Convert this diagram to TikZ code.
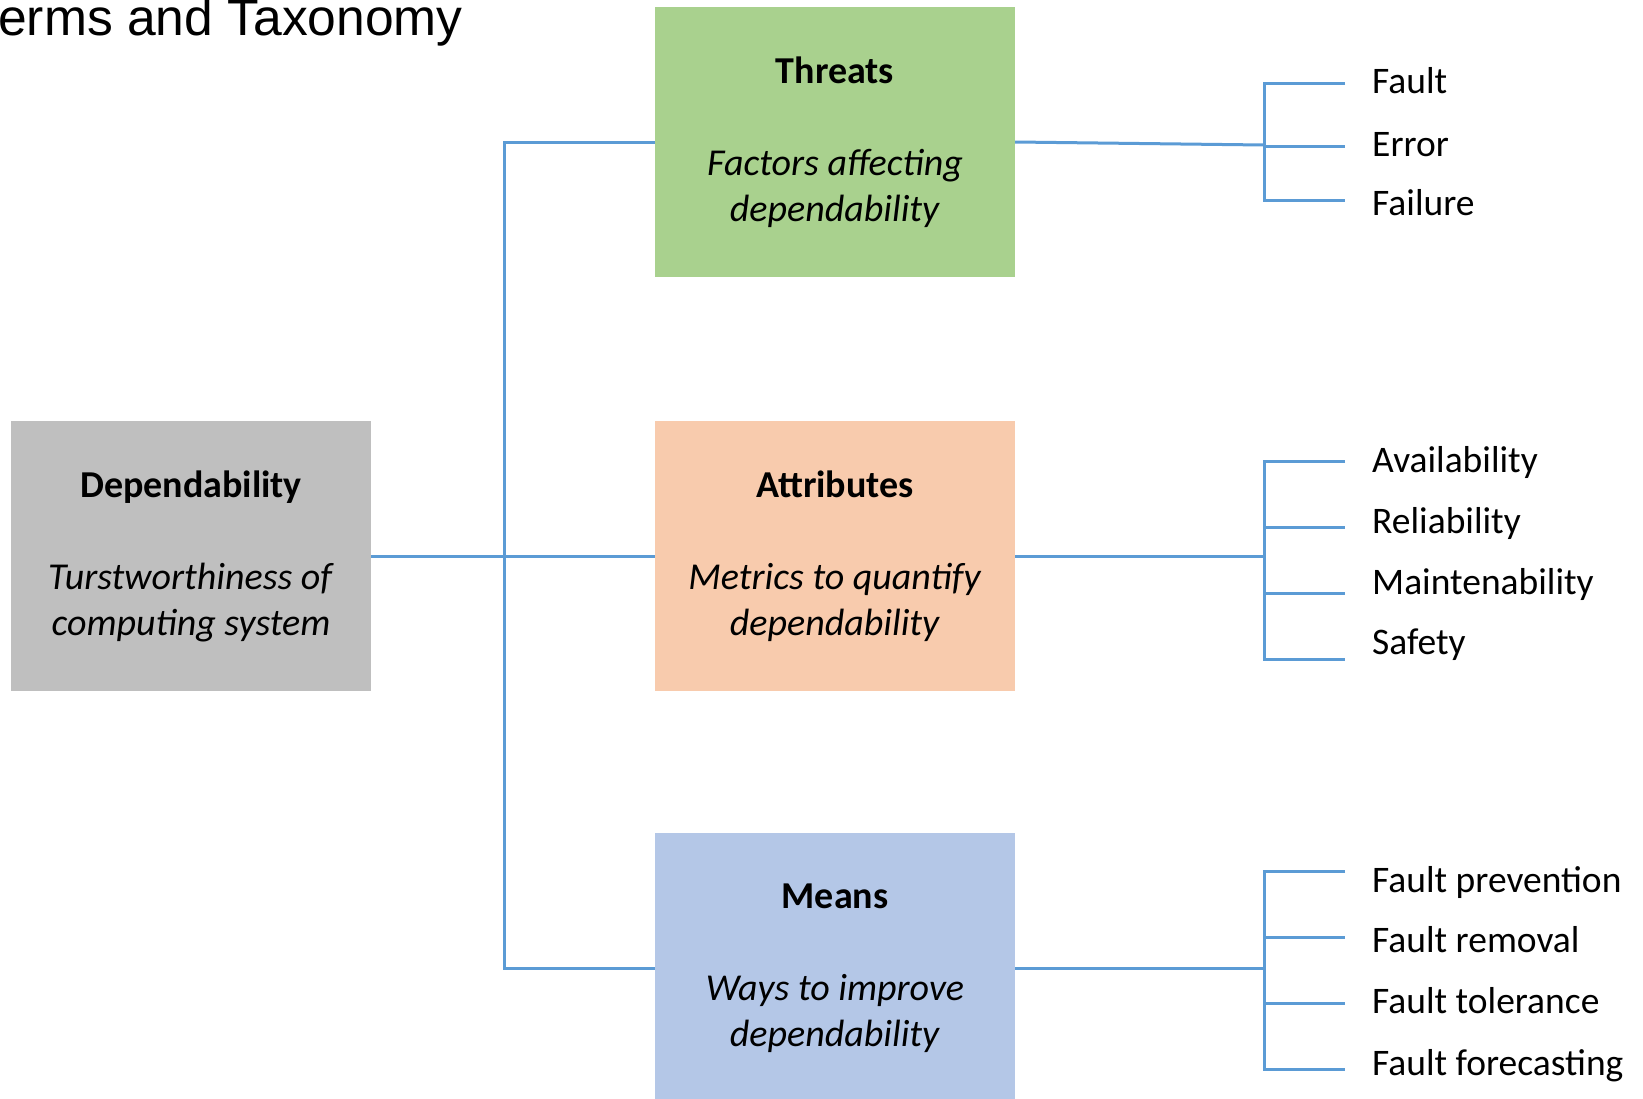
\documentclass[tikz,border=0pt]{standalone}
\usepackage{fontspec}
\setmainfont{Carlito}
\newfontfamily\titlefont{Liberation Sans}
\definecolor{cgray}{HTML}{BFBFBF}
\definecolor{cgreen}{HTML}{A9D18E}
\definecolor{corange}{HTML}{F8CBAD}
\definecolor{cblue}{HTML}{B4C7E7}
\definecolor{cline}{HTML}{5B9BD5}
\begin{document}
\begin{tikzpicture}[x=1pt,y=-1pt,
  box/.style={rectangle, draw=none, inner sep=0pt, minimum width=360pt, minimum height=270pt,
    align=center, font=\fontsize{38}{46}\selectfont},
  conn/.style={draw=cline, line width=3pt},
  item/.style={anchor=base west, inner sep=0pt, font=\fontsize{37.5}{45}\selectfont}]
\useasboundingbox (0,0) rectangle (1643,1098);
% title
\node[anchor=base west, inner sep=0pt, font=\titlefont\fontsize{51.6}{60}\selectfont] (title) at (-2,35) {erms and Taxonomy};
% boxes
\node[box, fill=cgray]   (dep) at (191,556) {\textbf{Dependability}\\[46pt]\textit{Turstworthiness of}\\\textit{computing system}};
\node[box, fill=cgreen]  (thr) at (835,142) {\textbf{Threats}\\[46pt]\textit{Factors affecting}\\\textit{dependability}};
\node[box, fill=corange] (att) at (835,556) {\textbf{Attributes}\\[46pt]\textit{Metrics to quantify}\\\textit{dependability}};
\node[box, fill=cblue]   (mea) at (835,968) {\textbf{Means}\\[46pt]\textit{Ways to improve}\\\textit{dependability}};
% left tree
\coordinate (jT) at (504,142);
\coordinate (jL) at (504,556);
\coordinate (jM) at (504,968);
\draw[conn] (dep.east) -- (jL) -- (att.west);
\draw[conn] (thr.west) -- (jT) -- (jM) -- (mea.west);
% threats items
\coordinate (rT) at (1264,145);
\coordinate (bT1) at (1345,83);
\coordinate (bT2) at (1345,146);
\coordinate (bT3) at (1345,200);
\draw[conn] (thr.east) -- (rT);
\draw[conn] (bT1) -| (rT) |- (bT3);
\draw[conn] (rT |- bT2) -- (bT2);
\node[item] (fault) at (1372,93) {Fault};
\node[item] (error) at (1372,156) {Error};
\node[item] (failure) at (1372,215) {Failure};
% attributes items
\coordinate (rA) at (1264,556);
\coordinate (bA1) at (1345,461);
\coordinate (bA2) at (1345,527);
\coordinate (bA3) at (1345,593);
\coordinate (bA4) at (1345,659);
\draw[conn] (att.east) -- (rA);
\draw[conn] (bA1) -| (rA) |- (bA4);
\draw[conn] (rA |- bA2) -- (bA2);
\draw[conn] (rA |- bA3) -- (bA3);
\node[item] (avail) at (1372,472) {Availability};
\node[item] (relia) at (1372,533) {Reliability};
\node[item] (maint) at (1372,594) {Maintenability};
\node[item] (safety) at (1372,654) {Safety};
% means items
\coordinate (rM) at (1264,968);
\coordinate (bM1) at (1345,871);
\coordinate (bM2) at (1345,937);
\coordinate (bM3) at (1345,1003);
\coordinate (bM4) at (1345,1069);
\draw[conn] (mea.east) -- (rM);
\draw[conn] (bM1) -| (rM) |- (bM4);
\draw[conn] (rM |- bM2) -- (bM2);
\draw[conn] (rM |- bM3) -- (bM3);
\node[item] (fprev) at (1372,892) {Fault prevention};
\node[item] (frem) at (1372,952) {Fault removal};
\node[item] (ftol) at (1372,1013) {Fault tolerance};
\node[item] (ffore) at (1372,1075) {Fault forecasting};
\end{tikzpicture}
\end{document}
